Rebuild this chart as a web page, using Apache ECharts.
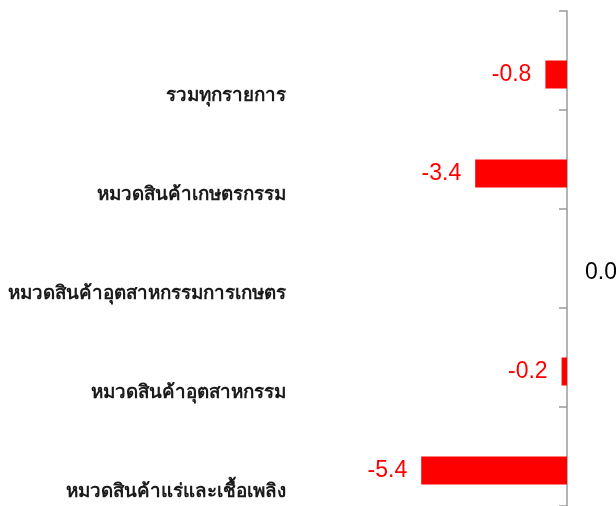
<!DOCTYPE html>
<html>
<head>
<meta charset="utf-8">
<script src="https://cdn.jsdelivr.net/npm/echarts@6/dist/echarts.min.js"></script>
<style>
html,body{margin:0;padding:0;background:#fff;}
#c{width:616px;height:506px;}
</style>
</head>
<body>
<div id="c"></div>
<script>
var categories = [
  'รวมทุกรายการ',
  'หมวดสินค้าเกษตรกรรม',
  'หมวดสินค้าอุตสาหกรรมการเกษตร',
  'หมวดสินค้าอุตสาหกรรม',
  'หมวดสินค้าแร่และเชื้อเพลิง'
];
var values = [-0.8, -3.4, 0.0, -0.2, -5.4];

var chart = echarts.init(document.getElementById('c'), null, {renderer: 'canvas'});

var barData = values.map(function (v) {
  var pos = v < 0 ? 'left' : 'right';
  return {
    value: v,
    label: {
      position: pos,
      color: v < 0 ? '#ff0000' : '#000000',
      distance: v < 0 ? 14 : 18
    }
  };
});

chart.setOption({
  animation: false,
  grid: {left: 297, right: 49, top: 11, bottom: 0, containLabel: false, outerBoundsMode: 'none'},
  xAxis: {
    type: 'value', min: -10, max: 0, show: false
  },
  yAxis: {
    type: 'category',
    inverse: true,
    data: categories,
    axisLine: {show: true, onZero: true, lineStyle: {color: '#9a9a9a', width: 1.5}},
    axisTick: {show: true, length: 8, lineStyle: {color: '#9a9a9a', width: 1.5}},
    axisLabel: {
      interval: 0,
      showMinLabel: true,
      showMaxLabel: true,
      hideOverlap: false,
      margin: 11,
      color: '#1a1a1a',
      fontSize: 18.8,
      fontWeight: 'bold',
      verticalAlign: 'top',
      lineHeight: 71
    }
  },
  series: [
    {type: 'bar', data: values.map(function () { return null; }), barWidth: 28, barGap: 0},
    {
      type: 'bar',
      data: barData,
      barWidth: 28,
      barGap: 0,
      itemStyle: {color: '#ff0000'},
      label: {
        show: true,
        fontSize: 23,
        fontFamily: 'Liberation Sans',
        formatter: function (p) { return p.value.toFixed(1); }
      }
    }
  ]
});
</script>
</body>
</html>
